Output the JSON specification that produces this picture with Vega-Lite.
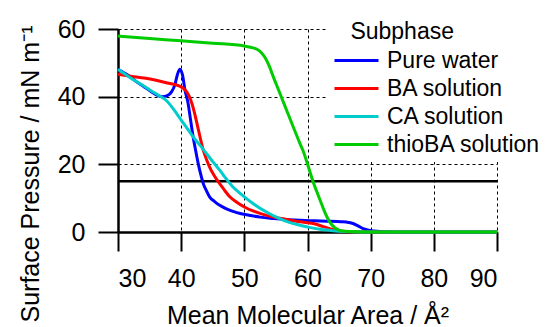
{
  "$schema": "https://vega.github.io/schema/vega-lite/v6.json",
  "width": 379,
  "height": 203,
  "autosize": "none",
  "padding": {"left": 118, "top": 29, "right": 51, "bottom": 95},
  "background": "white",
  "config": {
    "view": {"stroke": null},
    "font": "Liberation Sans",
    "axis": {"labelFont": "Liberation Sans", "titleFont": "Liberation Sans", "labelColor": "black", "titleColor": "black", "titleFontWeight": "normal"}
  },
  "datasets": {
    "curves": [
      {"s": "Pure water", "x": 30, "y": 48.1}, {"s": "Pure water", "x": 31, "y": 47.0}, {"s": "Pure water", "x": 32, "y": 45.8}, {"s": "Pure water", "x": 33, "y": 44.3}, {"s": "Pure water", "x": 34, "y": 43.1}, {"s": "Pure water", "x": 35, "y": 41.8}, {"s": "Pure water", "x": 36, "y": 40.6}, {"s": "Pure water", "x": 37, "y": 40.0}, {"s": "Pure water", "x": 37.8, "y": 40.3}, {"s": "Pure water", "x": 38.5, "y": 41.5}, {"s": "Pure water", "x": 39, "y": 43.5}, {"s": "Pure water", "x": 39.4, "y": 46.5}, {"s": "Pure water", "x": 39.8, "y": 48.1}, {"s": "Pure water", "x": 40.2, "y": 46.5}, {"s": "Pure water", "x": 40.6, "y": 42.0}, {"s": "Pure water", "x": 41.1, "y": 38.0}, {"s": "Pure water", "x": 41.5, "y": 33.0}, {"s": "Pure water", "x": 41.9, "y": 28.1}, {"s": "Pure water", "x": 42.3, "y": 24.0}, {"s": "Pure water", "x": 42.7, "y": 20.2}, {"s": "Pure water", "x": 43.1, "y": 17.0}, {"s": "Pure water", "x": 43.5, "y": 14.3}, {"s": "Pure water", "x": 44, "y": 12.2}, {"s": "Pure water", "x": 44.5, "y": 10.4}, {"s": "Pure water", "x": 45.3, "y": 9.0}, {"s": "Pure water", "x": 46.1, "y": 7.9}, {"s": "Pure water", "x": 47, "y": 7.0}, {"s": "Pure water", "x": 48.2, "y": 6.1}, {"s": "Pure water", "x": 49.5, "y": 5.4}, {"s": "Pure water", "x": 50.9, "y": 4.9}, {"s": "Pure water", "x": 52.5, "y": 4.4}, {"s": "Pure water", "x": 54.6, "y": 4.0}, {"s": "Pure water", "x": 56.5, "y": 3.7}, {"s": "Pure water", "x": 58.8, "y": 3.5}, {"s": "Pure water", "x": 61, "y": 3.3}, {"s": "Pure water", "x": 63, "y": 3.2}, {"s": "Pure water", "x": 65.6, "y": 3.0}, {"s": "Pure water", "x": 66.5, "y": 2.8}, {"s": "Pure water", "x": 67.2, "y": 2.5}, {"s": "Pure water", "x": 68, "y": 1.8}, {"s": "Pure water", "x": 68.8, "y": 1.0}, {"s": "Pure water", "x": 69.5, "y": 0.6}, {"s": "Pure water", "x": 70.4, "y": 0.3}, {"s": "Pure water", "x": 72, "y": 0.1}, {"s": "Pure water", "x": 75, "y": 0}, {"s": "Pure water", "x": 90, "y": 0},
      {"s": "BA solution", "x": 30, "y": 46.6}, {"s": "BA solution", "x": 32.5, "y": 45.9}, {"s": "BA solution", "x": 35.1, "y": 45.2}, {"s": "BA solution", "x": 37.5, "y": 44.2}, {"s": "BA solution", "x": 40, "y": 42.9}, {"s": "BA solution", "x": 40.9, "y": 41.4}, {"s": "BA solution", "x": 41.3, "y": 40.0}, {"s": "BA solution", "x": 41.7, "y": 38.0}, {"s": "BA solution", "x": 42.1, "y": 35.3}, {"s": "BA solution", "x": 42.5, "y": 32.1}, {"s": "BA solution", "x": 43, "y": 28.0}, {"s": "BA solution", "x": 43.5, "y": 24.2}, {"s": "BA solution", "x": 44, "y": 21.5}, {"s": "BA solution", "x": 44.5, "y": 19.2}, {"s": "BA solution", "x": 45.2, "y": 16.8}, {"s": "BA solution", "x": 45.9, "y": 14.8}, {"s": "BA solution", "x": 46.8, "y": 12.5}, {"s": "BA solution", "x": 47.7, "y": 10.4}, {"s": "BA solution", "x": 48.8, "y": 8.8}, {"s": "BA solution", "x": 50, "y": 7.4}, {"s": "BA solution", "x": 51.7, "y": 6.0}, {"s": "BA solution", "x": 53.5, "y": 4.9}, {"s": "BA solution", "x": 55.6, "y": 4.1}, {"s": "BA solution", "x": 57, "y": 3.6}, {"s": "BA solution", "x": 58.8, "y": 3.0}, {"s": "BA solution", "x": 60.9, "y": 2.5}, {"s": "BA solution", "x": 62.5, "y": 1.6}, {"s": "BA solution", "x": 63.5, "y": 1.0}, {"s": "BA solution", "x": 64.3, "y": 0.6}, {"s": "BA solution", "x": 65.1, "y": 0.3}, {"s": "BA solution", "x": 67, "y": 0.05}, {"s": "BA solution", "x": 70, "y": 0}, {"s": "BA solution", "x": 90, "y": 0},
      {"s": "CA solution", "x": 30, "y": 48.1}, {"s": "CA solution", "x": 31, "y": 46.8}, {"s": "CA solution", "x": 32, "y": 45.5}, {"s": "CA solution", "x": 33.5, "y": 43.8}, {"s": "CA solution", "x": 35.1, "y": 41.9}, {"s": "CA solution", "x": 36.5, "y": 40.3}, {"s": "CA solution", "x": 37.7, "y": 38.8}, {"s": "CA solution", "x": 38.9, "y": 36.0}, {"s": "CA solution", "x": 40, "y": 33.1}, {"s": "CA solution", "x": 41, "y": 30.5}, {"s": "CA solution", "x": 41.9, "y": 28.1}, {"s": "CA solution", "x": 43, "y": 25.6}, {"s": "CA solution", "x": 44, "y": 23.2}, {"s": "CA solution", "x": 45, "y": 20.8}, {"s": "CA solution", "x": 46.1, "y": 18.3}, {"s": "CA solution", "x": 47.1, "y": 15.8}, {"s": "CA solution", "x": 48.2, "y": 13.3}, {"s": "CA solution", "x": 49.1, "y": 11.8}, {"s": "CA solution", "x": 50, "y": 10.4}, {"s": "CA solution", "x": 51.7, "y": 8.0}, {"s": "CA solution", "x": 53.5, "y": 5.9}, {"s": "CA solution", "x": 55.5, "y": 4.0}, {"s": "CA solution", "x": 57, "y": 2.9}, {"s": "CA solution", "x": 58.8, "y": 2.0}, {"s": "CA solution", "x": 60.5, "y": 1.3}, {"s": "CA solution", "x": 62, "y": 0.8}, {"s": "CA solution", "x": 63.5, "y": 0.5}, {"s": "CA solution", "x": 65, "y": 0.25}, {"s": "CA solution", "x": 67, "y": 0.1}, {"s": "CA solution", "x": 70, "y": 0}, {"s": "CA solution", "x": 90, "y": 0},
      {"s": "thioBA solution", "x": 30, "y": 57.9}, {"s": "thioBA solution", "x": 35, "y": 57.2}, {"s": "thioBA solution", "x": 40, "y": 56.5}, {"s": "thioBA solution", "x": 45, "y": 55.8}, {"s": "thioBA solution", "x": 50, "y": 55.0}, {"s": "thioBA solution", "x": 51, "y": 54.6}, {"s": "thioBA solution", "x": 52, "y": 54.0}, {"s": "thioBA solution", "x": 52.7, "y": 53.0}, {"s": "thioBA solution", "x": 53.3, "y": 51.5}, {"s": "thioBA solution", "x": 54, "y": 48.8}, {"s": "thioBA solution", "x": 54.5, "y": 46.3}, {"s": "thioBA solution", "x": 55.5, "y": 41.6}, {"s": "thioBA solution", "x": 56.5, "y": 36.9}, {"s": "thioBA solution", "x": 57.5, "y": 32.2}, {"s": "thioBA solution", "x": 58.8, "y": 26.2}, {"s": "thioBA solution", "x": 59.3, "y": 24.0}, {"s": "thioBA solution", "x": 60.1, "y": 19.5}, {"s": "thioBA solution", "x": 60.9, "y": 14.8}, {"s": "thioBA solution", "x": 61.5, "y": 11.8}, {"s": "thioBA solution", "x": 62, "y": 9.4}, {"s": "thioBA solution", "x": 62.7, "y": 6.0}, {"s": "thioBA solution", "x": 63.5, "y": 3.0}, {"s": "thioBA solution", "x": 64.3, "y": 1.3}, {"s": "thioBA solution", "x": 65.1, "y": 0.5}, {"s": "thioBA solution", "x": 66, "y": 0.2}, {"s": "thioBA solution", "x": 68, "y": 0.05}, {"s": "thioBA solution", "x": 70, "y": 0}, {"s": "thioBA solution", "x": 90, "y": 0}
    ],
    "ref": [{"y": 15}]
  },
  "layer": [
    {
      "data": {"name": "ref"},
      "mark": {"type": "rule", "color": "black", "strokeWidth": 2.5},
      "encoding": {
        "y": {"field": "y", "type": "quantitative"}
      }
    },
    {
      "data": {"name": "curves"},
      "mark": {"type": "line", "strokeWidth": 3, "interpolate": "monotone"},
      "encoding": {
        "x": {
          "field": "x", "type": "quantitative",
          "scale": {"domain": [30, 90], "nice": false, "zero": false},
          "axis": {
            "values": [30, 40, 50, 60, 70, 80, 90],
            "title": "Mean Molecular Area / Å²",
            "titleFontSize": 25, "labelFontSize": 25,
            "tickSize": 19, "tickWidth": 2, "tickColor": "black",
            "domainColor": "black", "domainWidth": 2.5,
            "labelPadding": 15, "titlePadding": 12,
            "grid": true, "gridColor": "black", "gridDash": [3, 3], "gridWidth": 1, "gridOpacity": 1
          }
        },
        "y": {
          "field": "y", "type": "quantitative",
          "scale": {"domain": [0, 60], "nice": false},
          "axis": {
            "values": [0, 10, 20, 30, 40, 50, 60],
            "labelExpr": "datum.value % 20 === 0 ? datum.label : ''",
            "title": "Surface Pressure / mN m⁻¹",
            "titleFontSize": 25, "labelFontSize": 25,
            "titleAlign": "left", "titleY": 293,
            "tickSize": {"condition": {"test": "datum.value % 20 === 0", "value": 20}, "value": 10},
            "tickWidth": 2, "tickColor": "black",
            "domainColor": "black", "domainWidth": 2.5,
            "labelPadding": 13, "titlePadding": 14,
            "grid": true, "gridColor": "black", "gridDash": [3, 3], "gridWidth": 1, "gridOpacity": 1
          }
        },
        "color": {
          "field": "s", "type": "nominal",
          "scale": {"domain": ["Pure water", "BA solution", "CA solution", "thioBA solution"], "range": ["#0000ff", "#ff0000", "#00cccc", "#00cc00"]},
          "legend": {
            "orient": "none", "legendX": 210, "legendY": -13,
            "fillColor": "white", "padding": 5,
            "title": "\u200b\u00a0\u00a0\u2009Subphase",
            "titleFontSize": 23, "titleFontWeight": "normal", "titleFont": "Liberation Sans", "titleColor": "black",
            "labelFontSize": 23, "labelFont": "Liberation Sans", "labelColor": "black", "labelLimit": 300,
            "symbolType": "M-1,0H3", "symbolSize": 484, "symbolStrokeWidth": 3,
            "labelOffset": 29, "rowPadding": 3, "titlePadding": 4
          }
        }
      }
    }
  ]
}
